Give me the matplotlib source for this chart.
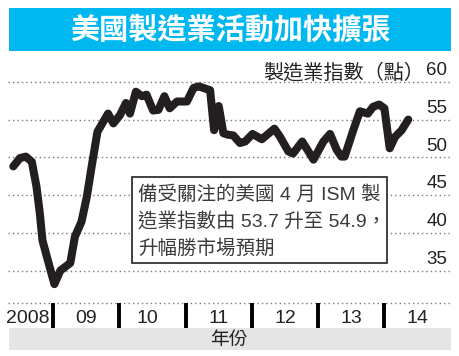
import numpy as np
import matplotlib
matplotlib.use("Agg")
import matplotlib.pyplot as plt
from matplotlib.patches import Rectangle

plt.rcParams['font.family'] = ['Liberation Sans', 'Noto Sans CJK TC', 'DejaVu Sans']

# data (decimal year, index value)
years = [2008.40, 2008.50, 2008.59, 2008.68, 2008.75, 2008.80, 2008.84, 2008.92,
         2009.02, 2009.11, 2009.26, 2009.33, 2009.43, 2009.51, 2009.59, 2009.67,
         2009.73, 2009.83, 2009.91, 2010.01, 2010.10, 2010.16, 2010.25, 2010.34,
         2010.41, 2010.51, 2010.59, 2010.68, 2010.76, 2010.87, 2011.02, 2011.12,
         2011.20, 2011.37, 2011.43, 2011.50, 2011.57, 2011.64, 2011.72, 2011.82,
         2011.90, 2012.01, 2012.15, 2012.34, 2012.42, 2012.55, 2012.62, 2012.76,
         2012.93, 2013.08, 2013.18, 2013.28, 2013.35, 2013.40, 2013.53, 2013.63,
         2013.75, 2013.83, 2013.92, 2014.00, 2014.08, 2014.16, 2014.26, 2014.36]
pmi = [48.8, 49.9, 50.1, 49.4, 46.1, 42.6, 39.0, 36.4,
       33.2, 35.0, 36.0, 39.5, 41.5, 44.8, 49.2, 53.4,
       54.3, 55.8, 54.5, 55.6, 57.2, 55.8, 58.7, 58.1,
       58.3, 56.2, 56.3, 58.1, 56.5, 57.4, 57.4, 59.2,
       59.4, 58.9, 53.6, 56.8, 53.2, 53.0, 52.9, 51.9,
       52.1, 53.1, 52.4, 53.8, 52.8, 50.8, 50.5, 52.1,
       49.7, 52.1, 53.1, 51.0, 50.1, 50.1, 53.6, 56.1,
       55.8, 56.7, 57.0, 56.5, 51.2, 52.7, 53.6, 55.0]

y_ticks = [35, 40, 45, 50, 55, 60]
year_ticks = [2009, 2010, 2011, 2012, 2013, 2014]
label_pos = [2008.62, 2009.5, 2010.42, 2011.5, 2012.5, 2013.5, 2014.5]
label_txt = ['2008', '09', '10', '11', '12', '13', '14']

title = '美國製造業活動加快擴張'
ylabel = '製造業指數（點）'
xlabel = '年份'
note = ['備受關注的美國 4 月 ISM 製',
        '造業指數由 53.7 升至 54.9，',
        '升幅勝市場預期']

W, H = 459, 356
fig = plt.figure(figsize=(W / 100, H / 100), dpi=100)


def fx(x):
    return x / W


def fy(y):
    return 1 - y / H


ax = fig.add_axes([fx(8), fy(303), fx(452) - fx(8), fy(60) - fy(303)])
ax.set_xlim(2008.32, 2015.02)
ax.set_ylim(30.7, 62.9)

# dotted grid
for v in y_ticks + [30.7]:
    ax.axhline(v, color='#7a7a7a', lw=1.0, ls=(0, (1, 2.2)), zorder=1, clip_on=False)

ax.plot(years, pmi, color='#231f20', lw=5.8, solid_joinstyle='round',
        solid_capstyle='round', zorder=3)

for s in ax.spines.values():
    s.set_visible(False)
ax.set_yticks([])
ax.set_xticks(year_ticks)
ax.set_xticklabels([])
ax.tick_params(axis='x', which='major', length=18, width=2.8, color='black', direction='out')
ax.set_xticks(label_pos, minor=True)
ax.set_xticklabels(label_txt, minor=True)
ax.tick_params(axis='x', which='minor', length=0, pad=5, labelsize=14, labelcolor='#222222')

# y labels sit above the gridlines on the right
for v in y_ticks:
    ax.annotate(str(v), xy=(1, v), xycoords=('axes fraction', 'data'),
                xytext=(-3.5, 2), textcoords='offset points',
                ha='right', va='bottom', fontsize=13.5, color='#222222')
fig.text(fx(424), fy(73), ylabel, ha='right', va='center', fontsize=14.5,
         color='#222222', family=['Noto Sans CJK TC'])

# title bar
fig.add_artist(Rectangle((fx(9), fy(51)), fx(451) - fx(9), fy(8) - fy(51),
                         transform=fig.transFigure, color='#00b8f0', lw=0))
fig.text(fx(230), fy(30), title, ha='center', va='center', fontsize=21,
         color='white', weight='bold', family=['Noto Sans CJK TC'])

# bottom bar
fig.add_artist(Rectangle((fx(9), fy(350)), fx(451) - fx(9), fy(328) - fy(350),
                         transform=fig.transFigure, color='#e5e5e6', lw=0))
fig.text(fx(229), fy(339), xlabel, ha='center', va='center', fontsize=13.5,
         color='#222222', family=['Noto Sans CJK TC'])

# note box
fig.add_artist(Rectangle((fx(132), fy(263)), fx(387) - fx(132), fy(177) - fy(263),
                         transform=fig.transFigure, facecolor='white',
                         edgecolor='#231f20', lw=1.2, zorder=5))
for i, line in enumerate(note):
    fig.text(fx(138), fy(195 + 27 * i), line, ha='left', va='center', fontsize=14,
             color='#3a3a3a', zorder=6)

fig.savefig('out.png', dpi=100)
